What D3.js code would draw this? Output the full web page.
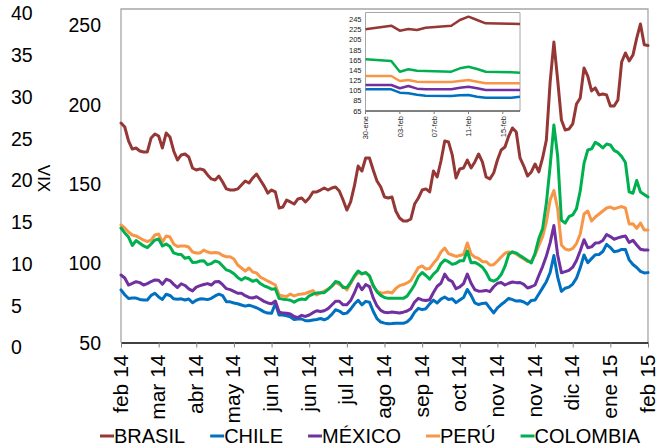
<!DOCTYPE html>
<html>
<head>
<meta charset="utf-8">
<script src="https://cdn.jsdelivr.net/npm/d3@7"></script>
<style>
  html, body { margin: 0; padding: 0; background: #fff; }
  svg { display: block; font-family: "Liberation Sans", Arial, sans-serif; }
</style>
</head>
<body>
<svg id="chart" width="661" height="446"></svg>
<script>
// Category labels shown every 10 observations along the bottom axis
const monthLabels = ["feb 14","mar 14","abr 14","may 14","jun 14","jun 14","jul 14","ago 14",
  "sep 14","oct 14","nov 14","nov 14","dic 14","ene 15","feb 15"];

// Daily index levels, one value per observation
const brasil = [
188.2,185.7,176.9,171.8,172.5,170.6,170,170,178.8,181.3,
180,172.5,181.9,179.4,170.6,164.9,168.1,168.7,166.8,159.9,
158.6,159.3,158.6,155.5,153,152.3,154.8,151.1,146.7,146,
146,146.7,149.2,151.7,150.4,153.6,156.1,152.3,148.6,144.1,
146,144.8,134.7,135.3,139.7,138.5,137.2,140.4,141,138.5,
141,144.8,144.8,146,147.3,146,147.3,147.9,145.4,139.7,
133.4,138.5,148.6,161.1,158,166.2,166.2,158.6,151.7,147.9,
141.6,141,141.6,132.8,128.4,126.5,126.5,127.8,137.2,141,
146,146.7,144.8,158,154.2,164.3,176.9,176.3,168.1,153.6,
159.3,159.9,164.9,159.9,163.7,168.7,163.7,154.2,153,156.7,
164.9,171.2,173.1,180,185.1,182.6,166.2,161.1,154.8,157.4,
162.4,157.4,166.2,177.5,214,239.2,215.3,190.1,183.8,184.4,
187.6,200.2,204,222.9,217.8,208.4,210.3,205.9,206.5,205.9,
198.9,198.9,202.7,226.6,232.3,227.3,231,241.7,250.6,237.5,237];

const chile = [
83.1,80.1,77.7,78.0,78.0,77.1,76.8,76.8,79.7,81.0,
78.7,77.1,80.4,79.6,77.5,77.3,77.5,76.8,77.4,75.0,
76.6,77.5,77.4,77.0,77.8,79.3,80.4,79.5,75.7,75.6,
74.9,74.4,73.6,72.9,73.5,72.7,71.9,70.7,69.3,68.5,
68.4,74.6,67.3,67.3,66.8,66.1,64.5,64.8,64.8,63.7,
63.7,64.2,64.5,65.1,64.3,65.4,67.7,70.6,69.8,68.1,
68.5,71.0,74.2,76.6,73.7,75.9,75.4,69.7,65.0,62.9,
62.2,61.8,61.9,62.1,62.1,62.1,63.0,65.2,69.0,71.5,
70.7,71.3,74.3,76.7,74.9,77.3,78.7,77.1,77.5,75.1,
76.8,78.3,83.4,79.7,74.9,73.9,74.6,74.8,71.7,68.6,
71.8,73.9,75.7,77.8,77.0,76.1,76.3,75.5,74.1,76.5,
76.8,80.5,84.4,88.3,94.1,104.8,91.1,82.2,84.2,84.9,
86.8,90.5,97.0,105.1,100.3,102.8,105.3,105.4,107.3,111.8,
109.8,107.2,107.6,108.6,108.6,102.0,99.1,97.2,94.8,93.8,94.0];

const mexico = [
92.5,90.6,86.2,87.2,88.3,87.7,86.2,87.1,88.4,89.4,
89.2,86.7,89.8,89.0,86.6,84.6,87.0,85.9,83.8,82.5,
84.9,85.8,86.5,87.1,86.2,88.3,88.4,86.4,83.9,83.3,
82.2,81.0,81.0,79.5,78.4,78.0,78.8,77.4,75.9,74.9,
74.4,76.1,69.2,68.5,68.4,67.9,66.4,65.7,67.1,66.4,
67.3,68.8,70.0,69.5,70.0,71.3,73.6,76.0,76.0,73.7,
73.7,76.4,81.2,87.0,83.2,86.5,85.2,78.1,73.1,70.2,
69.0,68.8,69.2,68.9,68.6,69.1,69.8,71.3,75.5,77.8,
76.8,76.4,76.9,81.5,85.4,87.3,93.1,89.6,88.3,83.9,
85.0,87.1,93.1,87.3,83.2,82.3,82.5,82.8,82.0,85.1,
87.3,87.8,86.2,87.3,88.1,87.7,87.8,86.6,84.3,85.1,
86.2,92.2,97.8,104.5,112.7,123.7,105.1,93.9,94.6,95.4,
97.4,101.6,107.8,114.7,109.7,110.2,112.6,112.8,114.2,118.0,
116.7,115.0,115.9,116.6,117.1,113.0,114.4,111.4,108.7,108.2,108.2];

const peru = [
124.0,122.1,119.6,117.7,117.1,115.8,114.5,113.6,114.5,117.7,
118.3,113.3,117.1,116.4,112.0,110.5,110.8,110.8,110.1,107.0,
106.4,106.4,108.2,107.0,106.4,106.7,106.4,104.8,104.0,104.0,
102.6,98.8,96.9,95.0,96.9,94.4,93.8,91.2,90.0,88.7,
87.5,86.2,79.9,79.3,79.0,80.5,79.3,80.2,80.5,80.9,
81.8,82.7,79.9,81.2,82.4,83.7,85.3,87.8,86.5,85.3,
83.1,87.2,91.2,94.1,93.1,94.1,91.9,85.3,82.4,81.2,
81.4,81.8,81.2,84.0,85.8,86.5,87.5,89.0,93.1,97.2,
98.2,96.3,96.6,99.9,102.6,107.0,109.5,106.0,105.1,104.2,
104.8,105.4,112.7,105.7,103.8,102.9,100.9,100.9,98.8,99.0,
101.3,103.8,106.2,107.0,106.7,105.7,104.0,102.6,101.0,101.3,
105.1,111.1,116.7,125.9,139.7,145.7,134.1,111.4,108.9,108.2,
109.2,112.3,118.3,130.9,132.8,126.5,129.0,130.9,132.8,134.7,
135.3,134.1,134.9,135.6,134.7,124.6,124.8,121.9,125.2,120.8,120.8];

const colombia = [
122.1,119.0,116.4,111.1,114.2,112.5,110.8,109.7,112.0,114.5,
115.2,110.8,112.0,110.4,106.4,105.6,105.4,103.0,103.7,100.4,
100.5,101.3,101.5,99.0,99.7,101.3,100.6,98.2,95.7,94.9,
93.3,91.0,89.4,90.9,90.0,88.5,89.4,87.1,85.7,84.8,
83.6,83.8,77.7,77.3,77.0,76.6,75.4,76.8,77.4,77.0,
79.4,80.5,81.1,81.4,81.4,83.3,85.6,88.4,87.7,84.6,
84.6,87.9,91.9,95.0,93.3,94.0,92.0,86.0,81.9,79.7,
78.3,77.8,77.8,77.8,77.8,77.8,79.2,82.6,86.4,91.5,
94.1,92.2,89.9,93.1,95.2,99.7,102.0,100.9,99.2,99.9,
101.4,101.5,107.6,100.2,100.4,99.2,97.4,94.1,89.5,88.6,
89.9,92.8,97.9,105.4,107.1,106.3,104.7,103.2,101.6,100.1,
106.2,115.4,121.7,137.8,161.1,187.0,167.4,127.0,125.2,129.2,
130.3,134.3,145.5,162.8,171.2,171.9,176.1,174.6,172.5,175.0,
174.4,171.0,169.7,167.1,163.3,144.8,144.0,152.0,144.8,143.2,141.6];

// Tick values for the two vertical scales
const indexTicks = [50, 100, 150, 200, 250];
const vixTicks = [0, 5, 10, 15, 20, 25, 30, 35, 40];

// Detail panel: last trading days (30 Jan - 17 Feb 2015)
const insetDates = ["2015-01-30","2015-02-02","2015-02-03","2015-02-04","2015-02-05","2015-02-06",
  "2015-02-09","2015-02-10","2015-02-11","2015-02-12","2015-02-13","2015-02-16","2015-02-17"];
const insetBrasil   = [225.7,232.8,223.0,226.3,224.3,228.9,232.8,244.0,250.5,244.0,237.5,236.5,236.2];
const insetChile    = [107.7,107.7,101.0,99.8,97.0,95.1,94.5,95.9,96.5,93.2,91.2,91.2,93.2];
const insetMexico   = [116.2,116.2,109.7,114.2,109.0,107.7,107.7,110.9,112.8,109.7,106.3,106.3,106.3];
const insetPeru     = [133.9,133.9,124.0,126.0,122.7,122.1,122.1,124.0,126.0,122.7,119.5,119.5,119.5];
const insetColombia = [166.7,163.4,142.3,147.0,144.3,143.7,142.3,149.0,152.2,147.6,142.3,141.0,140.4];
const insetTicks = [65, 85, 105, 125, 145, 165, 185, 205, 225, 245];
const insetTickDates = ["2015-01-30","2015-02-03","2015-02-07","2015-02-11","2015-02-15"];
const insetTickLabels = ["30-ene","03-feb","07-feb","11-feb","15-feb"];

const seriesNames = ["BRASIL","CHILE","MÉXICO","PERÚ","COLOMBIA"];
const seriesColors = ["#953735","#0070C0","#7030A0","#F79646","#00B050"];
const mainValues = [brasil, chile, mexico, peru, colombia];
const insetValues = [insetBrasil, insetChile, insetMexico, insetPeru, insetColombia];

const svg = d3.select("#chart");
const n = brasil.length;

const x = d3.scaleLinear().domain([0, n - 1]).range([121, 648]);
const y = d3.scaleLinear().domain([50, 260]).range([342.5, 9]);
const yVix = d3.scaleLinear().domain([0, 40]).range([347.5, 13.5]);

// Plot frame (left, top, right)
svg.append("path")
  .attr("d", `M${x(0)},${y(50)}V${y(260)}H${x(n - 1)}V${y(50)}`)
  .attr("fill", "none").attr("stroke", "#a6a6a6").attr("stroke-width", 1.3);

// Bottom category axis
const xAxis = d3.axisBottom(x)
  .tickValues(d3.range(0, n, 10))
  .tickSize(5).tickSizeOuter(0)
  .tickFormat(i => monthLabels[i / 10]);
const gx = svg.append("g").attr("transform", `translate(0,${y(50)})`).call(xAxis);
gx.attr("font-size", null).attr("font-family", null);
gx.select(".domain").attr("stroke", "#000").attr("stroke-width", 1.3);
gx.selectAll(".tick line").attr("stroke", "#7f7f7f");
gx.selectAll(".tick text")
  .attr("transform", "rotate(-90)")
  .attr("text-anchor", "end")
  .attr("x", -12).attr("y", 6).attr("dy", 0)
  .attr("font-size", 21).attr("fill", "#000");

// Index scale labels (inner)
const yAxis = d3.axisLeft(y).tickValues(indexTicks).tickSize(0).tickPadding(0);
const gy = svg.append("g").attr("transform", "translate(101,0)").call(yAxis);
gy.attr("font-size", null).attr("font-family", null);
gy.select(".domain").remove();
gy.selectAll(".tick text").attr("font-size", 19.5).attr("fill", "#000").attr("dy", "0.35em");

// VIX scale labels (outer)
svg.append("g").selectAll("text").data(vixTicks).join("text")
  .attr("x", 11).attr("y", d => yVix(d)).attr("dy", "0.35em")
  .attr("font-size", 19.5).attr("fill", "#000")
  .text(d => d);

svg.append("text")
  .attr("transform", `translate(44,${yVix(20) - 2}) rotate(90)`)
  .attr("text-anchor", "middle").attr("dy", "0.35em")
  .attr("font-size", 17).attr("fill", "#000")
  .text("VIX");

// Main series lines
const line = d3.line().x((d, i) => x(i)).y(d => y(d));
svg.append("g").selectAll("path").data(mainValues).join("path")
  .attr("d", line)
  .attr("fill", "none")
  .attr("stroke", (d, i) => seriesColors[i])
  .attr("stroke-width", 3)
  .attr("stroke-linejoin", "round")
  .attr("stroke-linecap", "round");

// Detail panel
const parse = d3.timeParse("%Y-%m-%d");
const xi = d3.scaleTime().domain([parse("2015-01-30"), parse("2015-02-17")]).range([365.5, 520]);
const yi = d3.scaleLinear().domain([65, 245]).range([111, 19.5]);
const insetTop = 12.5;

const inset = svg.append("g");
inset.append("rect")
  .attr("x", xi.range()[0]).attr("y", insetTop)
  .attr("width", xi.range()[1] - xi.range()[0]).attr("height", yi(65) - insetTop)
  .attr("fill", "#fff");
inset.append("path")
  .attr("d", `M${xi.range()[0]},${yi(65)}V${insetTop}H${xi.range()[1]}V${yi(65)}`)
  .attr("fill", "none").attr("stroke", "#a6a6a6").attr("stroke-width", 1);

const insetLine = d3.line().x((d, i) => xi(parse(insetDates[i]))).y(d => yi(d));
inset.append("g").selectAll("path").data(insetValues).join("path")
  .attr("d", insetLine)
  .attr("fill", "none")
  .attr("stroke", (d, i) => seriesColors[i])
  .attr("stroke-width", 2.5)
  .attr("stroke-linejoin", "round");

inset.append("line")
  .attr("x1", xi.range()[0]).attr("x2", xi.range()[1])
  .attr("y1", yi(65)).attr("y2", yi(65))
  .attr("stroke", "#000").attr("stroke-width", 1);

inset.append("g").selectAll("line").data(insetTickDates).join("line")
  .attr("x1", d => xi(parse(d))).attr("x2", d => xi(parse(d)))
  .attr("y1", yi(65)).attr("y2", yi(65) + 3)
  .attr("stroke", "#7f7f7f");

inset.append("g").selectAll("text").data(insetTicks).join("text")
  .attr("x", 361.5).attr("y", d => yi(d)).attr("dy", "0.35em")
  .attr("text-anchor", "end").attr("font-size", 7.5).attr("fill", "#222")
  .text(d => d);

inset.append("g").selectAll("text").data(insetTickDates).join("text")
  .attr("transform", d => `translate(${xi(parse(d)) + 2.7},${yi(65) + 5}) rotate(-90)`)
  .attr("text-anchor", "end").attr("font-size", 7.5).attr("fill", "#222")
  .text((d, i) => insetTickLabels[i]);

// Legend
const legend = svg.append("g").attr("transform", "translate(100,436)");
let lx = 0;
seriesNames.forEach((name, i) => {
  const item = legend.append("g").attr("transform", `translate(${lx},0)`);
  item.append("line").attr("x1", 0).attr("x2", 14).attr("y1", 0).attr("y2", 0)
    .attr("stroke", seriesColors[i]).attr("stroke-width", 3);
  const t = item.append("text").attr("x", 14).attr("y", 7)
    .attr("font-size", 20).attr("fill", "#000").text(name);
  lx += 14 + t.node().getComputedTextLength() + 25;
});
</script>
</body>
</html>
